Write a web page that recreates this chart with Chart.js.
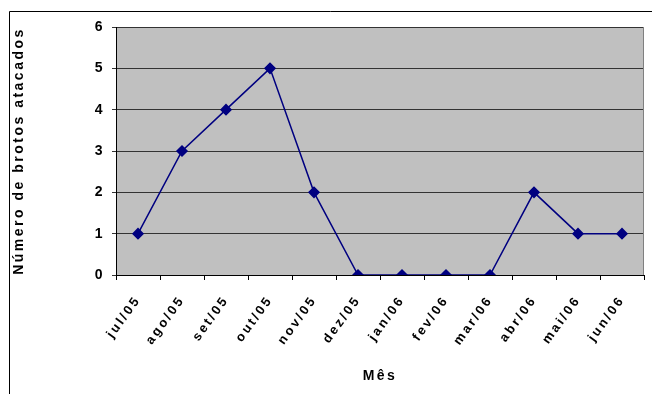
<!DOCTYPE html>
<html>
<head>
<meta charset="utf-8">
<script src="https://cdn.jsdelivr.net/npm/chart.js@4/dist/chart.umd.min.js"></script>
<style>
  html, body { margin: 0; padding: 0; background: #fff; }
  #wrap { width: 652px; height: 394px; position: relative; }
</style>
</head>
<body>
<div id="wrap"><canvas id="brotosChart" width="652" height="394"></canvas></div>
<script>
// meses e número de brotos atacados
const meses = ['jul/05', 'ago/05', 'set/05', 'out/05', 'nov/05', 'dez/05',
               'jan/06', 'fev/06', 'mar/06', 'abr/06', 'mai/06', 'jun/06'];
const brotos = [1, 3, 4, 5, 2, 0, 0, 0, 0, 2, 1, 1];
const yTicks = [0, 1, 2, 3, 4, 5, 6];

// moldura externa, fundo cinza e bordas da área do gráfico
const moldura = {
    id: 'moldura',
    beforeDraw(chart) {
        const c = chart.ctx, a = chart.chartArea;
        c.letterSpacing = '2.5px';
        c.save();
        c.strokeStyle = '#000';
        c.lineWidth = 1;
        c.beginPath();
        c.moveTo(9.5, 394);
        c.lineTo(9.5, 11.5);
        c.lineTo(652, 11.5);
        c.stroke();
        c.fillStyle = '#c0c0c0';
        c.fillRect(a.left, a.top, a.right - a.left, a.bottom - a.top);
        c.restore();
    },
    beforeDatasetsDraw(chart) {
        const c = chart.ctx, a = chart.chartArea;
        c.save();
        c.strokeStyle = '#808080';
        c.lineWidth = 1;
        c.beginPath();
        c.moveTo(a.right - 0.5, a.top);
        c.lineTo(a.right - 0.5, a.bottom);
        c.stroke();
        c.strokeStyle = '#000';
        c.beginPath();
        c.moveTo(a.left + 0.5, a.top);
        c.lineTo(a.left + 0.5, a.bottom);
        c.moveTo(a.left, a.bottom + 0.5);
        c.lineTo(a.right, a.bottom + 0.5);
        c.stroke();
        c.restore();
    }
};

Chart.defaults.font.family = '"Liberation Sans", Arial, sans-serif';
Chart.defaults.font.weight = 'bold';
Chart.defaults.color = '#000';

const canvas = document.getElementById('brotosChart');
canvas.getContext('2d').letterSpacing = '2.5px';

new Chart(canvas, {
    type: 'line',
    data: {
        labels: meses,
        datasets: [{
            data: brotos,
            borderColor: '#000080',
            backgroundColor: '#000080',
            borderWidth: 1.5,
            pointStyle: 'rectRot',
            pointRadius: 5,
            pointHoverRadius: 5,
            tension: 0
        }]
    },
    options: {
        responsive: false,
        animation: false,
        events: [],
        layout: { padding: { left: 0, top: 27, right: 8, bottom: 0 } },
        plugins: { legend: { display: false }, tooltip: { enabled: false } },
        scales: {
            x: {
                offset: true,
                grid: { offset: true, drawOnChartArea: false, drawTicks: true, tickLength: 5, color: '#000' },
                border: { display: false },
                ticks: { font: { size: 13 }, maxRotation: 54, minRotation: 54, padding: 13 },
                title: { display: true, text: 'Mês', font: { size: 14 }, padding: { top: 4, bottom: 9 } },
                afterFit(scale) { scale.height = 119; }
            },
            y: {
                min: 0,
                max: 6,
                afterBuildTicks(scale) { scale.ticks = yTicks.map(v => ({ value: v })); },
                grid: { color: '#333', tickLength: 4, drawTicks: true },
                border: { display: false },
                ticks: { font: { size: 14 }, padding: 7 },
                title: { display: true, text: 'Número de brotos atacados', font: { size: 14 }, padding: { top: 11, bottom: 0 } },
                afterFit(scale) { scale.width = 116; }
            }
        }
    },
    plugins: [moldura]
});
</script>
</body>
</html>
